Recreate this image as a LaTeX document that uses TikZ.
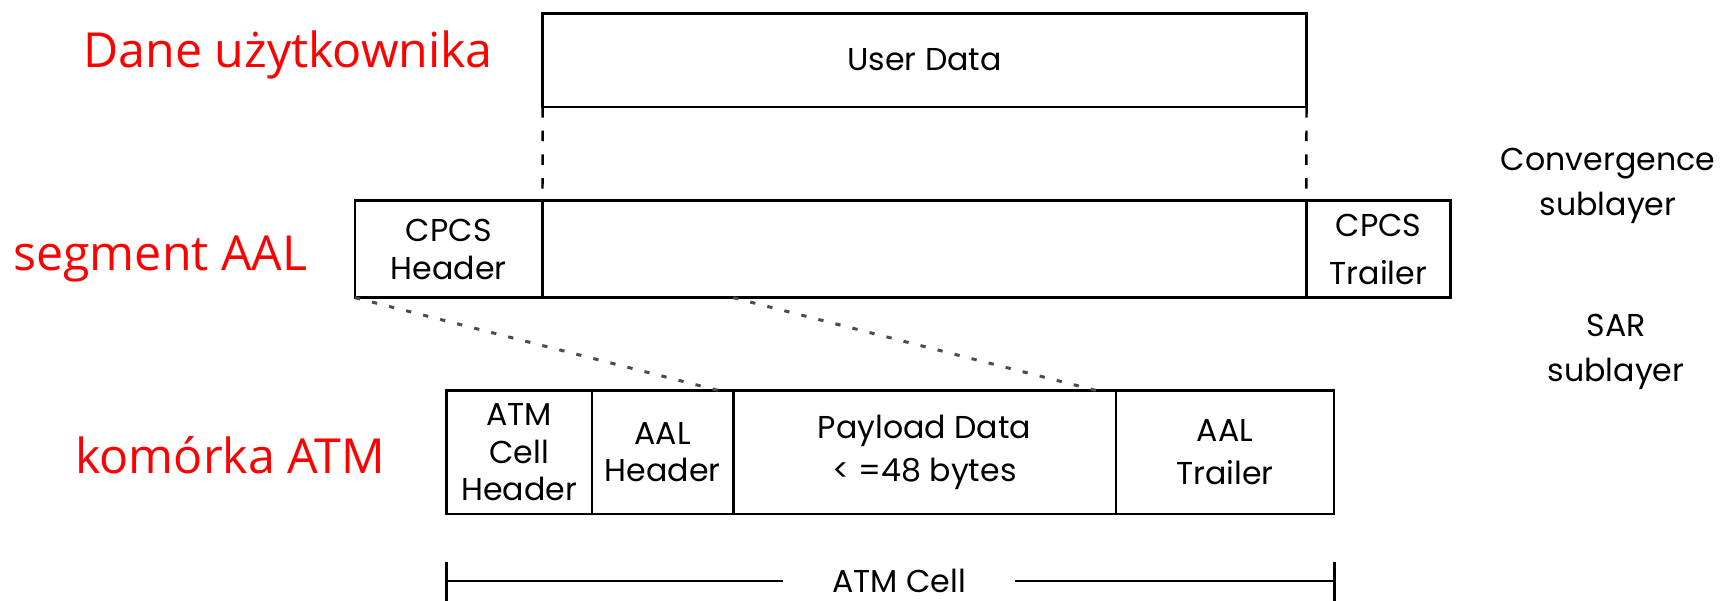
\documentclass[tikz,border=0pt]{standalone}
\usepackage{fontspec}
\setmainfont{Poppins}
\newfontfamily\redfont{Open Sans}
\usetikzlibrary{positioning}

\tikzset{
  field/.style={draw,line width=1.5pt,inner sep=0pt,outer sep=0pt,align=center,
    font=\fontsize{18}{21.5}\selectfont},
  side/.style={align=center,font=\fontsize{18}{26}\selectfont},
  tag/.style={text=red,anchor=west,inner sep=0pt,font=\redfont\fontsize{27.5}{30}\selectfont},
  guide/.style={line width=1.4pt,dash pattern=on 6pt off 7.5pt},
  slant/.style={line width=1.7pt,black!70,dash pattern=on 3pt off 7pt}
}

\begin{document}
\begin{tikzpicture}[x=0.02cm,y=-0.02cm]
\useasboundingbox (0,0) rectangle (1729,601);

% user data
\node[field,minimum width=15.28cm,minimum height=1.876cm] (ud) at (924.6,60.1) {User Data};

% AAL segment
\node[field,minimum width=3.75cm,minimum height=1.94cm] (cpcsh) at (448.75,249.2) {CPCS\\Header};
\node[field,minimum width=15.28cm,minimum height=1.94cm,right=0pt of cpcsh] (cpcsd) {};
\node[field,minimum width=2.886cm,minimum height=1.94cm,right=0pt of cpcsd] (cpcst) {CPCS\\[6pt]Trailer};

% ATM cell
\node[field,minimum width=2.908cm,minimum height=2.47cm] (atmh) at (519.3,452.15) {ATM\\Cell\\Header};
\node[field,minimum width=2.826cm,minimum height=2.47cm,right=0pt of atmh] (aalh) {AAL\\Header};
\node[field,minimum width=7.654cm,minimum height=2.47cm,right=0pt of aalh] (pay) {Payload Data\\[3pt]< =48 bytes};
\node[field,minimum width=4.366cm,minimum height=2.47cm,right=0pt of pay] (aalt) {AAL\\[3pt]Trailer};

\draw[guide] (ud.south west) -- (cpcsd.north west);
\draw[guide] (ud.south east) -- (cpcsd.north east);

\coordinate (cut) at (pay.north west |- cpcsd.south);
\draw[slant] (cpcsh.south west) -- ([xshift=-0.3cm]aalh.north east);
\draw[slant] (cut) -- ([xshift=-0.4cm]pay.north east);

% span of one cell
\node[font=\fontsize{18}{21}\selectfont,inner xsep=0.98cm,inner ysep=0pt] (cell) at (899,581) {ATM Cell};
\coordinate (cl) at (446.6,581);
\coordinate (cr) at (1334.3,581);
\draw[line width=1.5pt] (446.6,562) -- (446.6,601) (1334.3,562) -- (1334.3,601);
\draw[line width=1.5pt] (cl) -- (cell.west) (cell.east) -- (cr);

\node[side] (cs) at (1608,186) {Convergence\\sublayer};
\node[side] (sar) at (1616,352) {SAR\\sublayer};

\node[tag] (dane) at (83,55) {Dane użytkownika};
\node[tag] (seg) at (13,259) {segment AAL};
\node[tag] (kom) at (75,455) {komórka ATM};
\end{tikzpicture}
\end{document}
